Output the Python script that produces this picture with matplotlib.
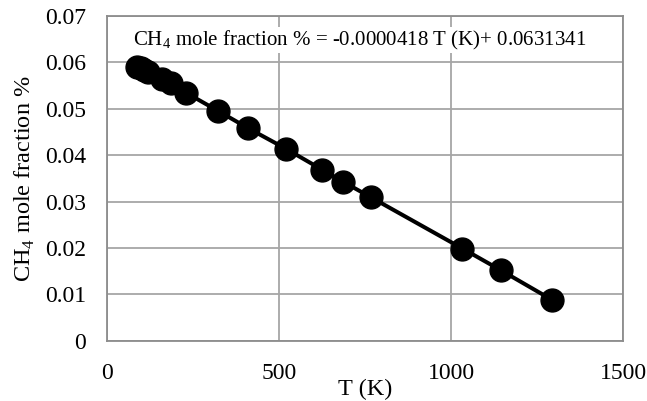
import matplotlib
matplotlib.use("Agg")
import matplotlib.pyplot as plt

# data
temperature_k = [88, 98, 108, 120, 160, 185, 229, 324, 411, 520, 625, 686, 768, 1033, 1145, 1292]
ch4_fraction = [0.0590, 0.0588, 0.0584, 0.0580, 0.0565, 0.0556, 0.0535, 0.0495, 0.0458,
                0.0414, 0.0369, 0.0343, 0.0309, 0.0199, 0.0152, 0.0089]
x_ticks = [0, 500, 1000, 1500]
y_ticks = [0, 0.01, 0.02, 0.03, 0.04, 0.05, 0.06, 0.07]
y_tick_labels = ["0", "0.01", "0.02", "0.03", "0.04", "0.05", "0.06", "0.07"]
equation = "CH$_4$ mole fraction % = -0.0000418 T (K)+ 0.0631341"

plt.rcParams["font.family"] = ["Liberation Serif", "DejaVu Serif"]
plt.rcParams["mathtext.fontset"] = "custom"
plt.rcParams["mathtext.rm"] = "Liberation Serif"

fig = plt.figure(figsize=(6.47, 4.01), dpi=100)
ax = fig.add_axes([0.1654, 0.150, 0.7976, 0.810])

ax.plot(temperature_k, ch4_fraction, color="black", linewidth=2.9,
        marker="o", markersize=16.5, zorder=3, clip_on=False)

ax.set_xlim(0, 1500)
ax.set_ylim(0, 0.07)
ax.set_xticks(x_ticks)
ax.set_xticklabels([str(t) for t in x_ticks])
ax.set_yticks(y_ticks)
ax.set_yticklabels(y_tick_labels)
ax.tick_params(length=0, labelsize=17)
ax.tick_params(axis="y", pad=15)
ax.tick_params(axis="x", pad=16)

ax.grid(True, color="#a6a6a6", linewidth=1.3)
ax.set_axisbelow(True)
for spine in ax.spines.values():
    spine.set_color("#8c8c8c")
    spine.set_linewidth(1.3)

ax.set_xlabel("T (K)", fontsize=17.5)
ax.xaxis.set_label_coords(0.5, -0.117)
ax.set_ylabel("CH$_4$ mole fraction %", fontsize=17.5, labelpad=6)

ax.text(0.05, 0.926, equation, transform=ax.transAxes, fontsize=15,
        va="center", ha="left",
        bbox=dict(facecolor="white", edgecolor="none", pad=1))

fig.savefig("out.png", dpi=100)
